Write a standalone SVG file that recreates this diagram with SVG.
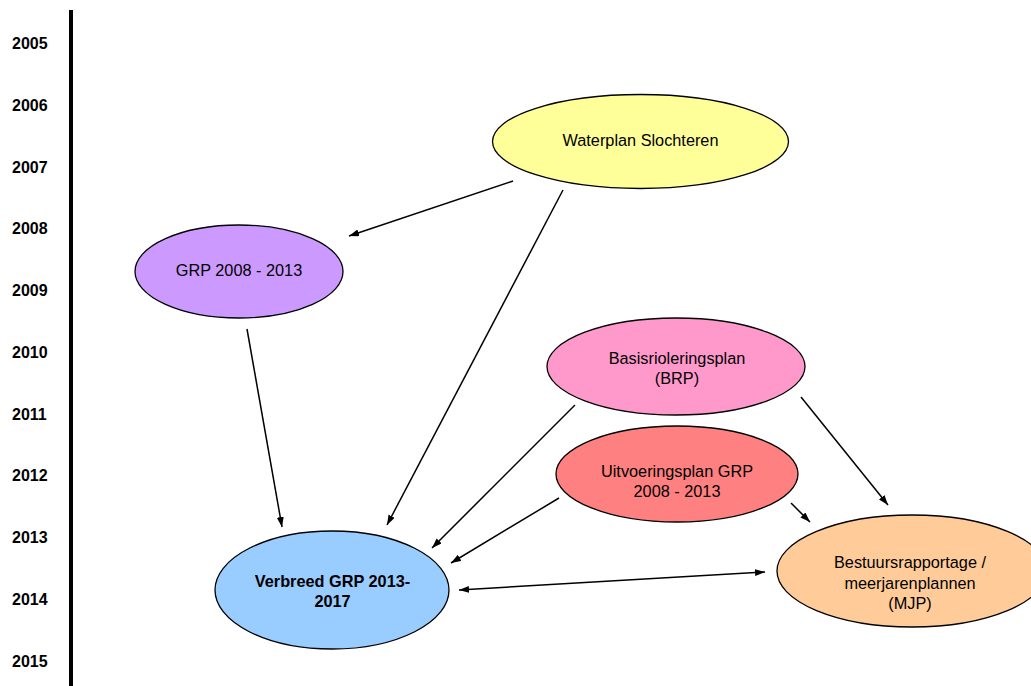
<svg xmlns="http://www.w3.org/2000/svg" width="1031" height="686" viewBox="0 0 1031 686">
<style>
.yr{font-family:"Liberation Sans",Arial,sans-serif;font-size:16px;font-weight:bold;fill:#000}
.lbl{font-family:"Liberation Sans",Arial,sans-serif;font-size:16.3px;fill:#000;text-anchor:middle}
.b{font-weight:bold}
.node ellipse{stroke:#000;stroke-width:1.3}
.conn line{stroke:#000;stroke-width:1.5;marker-end:url(#ah)}
</style>
<defs>
<marker id="ah" markerUnits="userSpaceOnUse" markerWidth="11" markerHeight="8" refX="10" refY="3.5" orient="auto-start-reverse">
<path d="M0,0 L10,3.5 L0,7 z" fill="#000"/>
</marker>
</defs>
<rect width="1031" height="686" fill="#fff"/>
<g id="timeline">
<rect x="69" y="10" width="4" height="676" fill="#000"/>
<text class="yr" x="12" y="49">2005</text>
<text class="yr" x="12" y="110.8">2006</text>
<text class="yr" x="12" y="172.5">2007</text>
<text class="yr" x="12" y="234.3">2008</text>
<text class="yr" x="12" y="296.1">2009</text>
<text class="yr" x="12" y="357.9">2010</text>
<text class="yr" x="12" y="419.6">2011</text>
<text class="yr" x="12" y="481.4">2012</text>
<text class="yr" x="12" y="543.2">2013</text>
<text class="yr" x="12" y="604.9">2014</text>
<text class="yr" x="12" y="666.7">2015</text>
</g>
<g id="waterplan" class="node">
<ellipse cx="640.5" cy="141.5" rx="148" ry="47" fill="#FFFF99"/>
<text class="lbl" x="640.5" y="145.5">Waterplan Slochteren</text>
</g>
<g id="grp" class="node">
<ellipse cx="239" cy="271.5" rx="104" ry="46.5" fill="#CC99FF"/>
<text class="lbl" x="239" y="276">GRP 2008 - 2013</text>
</g>
<g id="brp" class="node">
<ellipse cx="676" cy="366.5" rx="129" ry="48.5" fill="#FF99CC"/>
<text class="lbl" x="677" y="363.5">Basisrioleringsplan</text>
<text class="lbl" x="677" y="384">(BRP)</text>
</g>
<g id="uitvoering" class="node">
<ellipse cx="677" cy="474" rx="121" ry="48" fill="#FF8080"/>
<text class="lbl" x="677" y="476.7">Uitvoeringsplan GRP</text>
<text class="lbl" x="677" y="496.7">2008 - 2013</text>
</g>
<g id="verbreed" class="node">
<ellipse cx="332" cy="590" rx="117" ry="59" fill="#99CCFF"/>
<text class="lbl b" x="332.5" y="587">Verbreed GRP 2013-</text>
<text class="lbl b" x="332.5" y="607">2017</text>
</g>
<g id="bestuur" class="node">
<ellipse cx="912" cy="571" rx="135" ry="56" fill="#FFCC99"/>
<text class="lbl" x="910" y="568">Bestuursrapportage /</text>
<text class="lbl" x="910" y="588.5">meerjarenplannen</text>
<text class="lbl" x="910" y="609">(MJP)</text>
</g>
<g id="connectors" class="conn">
<line x1="513" y1="181" x2="349" y2="236"/>
<line x1="563" y1="190" x2="387" y2="525"/>
<line x1="247" y1="329" x2="282" y2="527"/>
<line x1="575" y1="405" x2="432" y2="548"/>
<line x1="559" y1="498" x2="451" y2="563"/>
<line x1="801" y1="397" x2="888" y2="505"/>
<line x1="791" y1="503" x2="810" y2="522"/>
<line x1="459" y1="590" x2="765" y2="572" style="marker-start:url(#ah)"/>
</g>
</svg>
